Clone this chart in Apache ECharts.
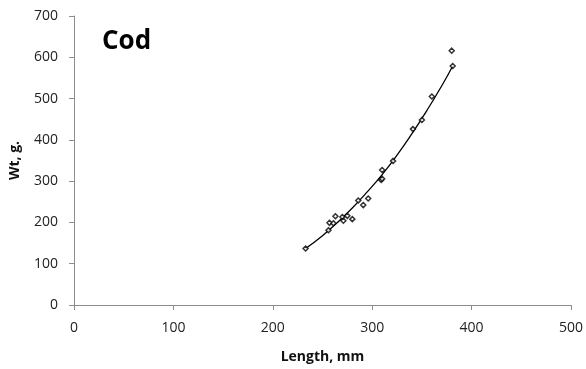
<!DOCTYPE html>
<html>
<head>
<meta charset="utf-8">
<script src="https://cdn.jsdelivr.net/npm/echarts@6/dist/echarts.min.js"></script>
<style>html,body{margin:0;padding:0;background:#fff}#c{width:586px;height:369px}</style>
</head>
<body>
<div id="c"></div>
<script>
// Observed fish: [length mm, weight g]
var codLength = [233, 256, 257, 261, 263, 270, 271, 275, 280, 286, 291, 296, 309, 310, 310, 321, 341, 350, 360, 380, 381];
var codWeight = [137, 181, 199, 198, 215, 213, 204, 216, 208, 253, 242, 258, 303, 306, 327, 349, 426, 448, 505, 616, 579];
// Trendline
var trendLength = [233, 250, 265, 280, 295, 310, 325, 340, 355, 370, 381];
var trendWeight = [137, 168, 200, 235, 274, 316, 363, 415, 471, 531, 579];
var xTicks = [0, 100, 200, 300, 400, 500];
var yTicks = [0, 100, 200, 300, 400, 500, 600, 700];

var FONT = '"Open Sans", sans-serif';
var chart = echarts.init(document.getElementById('c'), null, {renderer: 'canvas'});
var pts = codLength.map(function (x, i) { return [x, codWeight[i]]; });
var trend = trendLength.map(function (x, i) { return [x, trendWeight[i]]; });
var axisCommon = {
  axisLine: {show: true, lineStyle: {color: '#8c8c8c', width: 1}},
  axisTick: {show: true, length: 5, lineStyle: {color: '#8c8c8c'}},
  splitLine: {show: false},
  nameTextStyle: {fontFamily: FONT, fontWeight: 'bold', fontSize: 14, color: '#111'}
};
chart.setOption({
  animation: false,
  backgroundColor: '#fff',
  grid: {left: 73, right: 15, top: 16, bottom: 64, containLabel: false},
  graphic: [{
    type: 'text', left: 102, top: 29,
    style: {text: 'Cod', fontFamily: FONT, fontWeight: 'bold', fontSize: 26, fill: '#000'}
  }],
  xAxis: Object.assign({}, axisCommon, {
    type: 'value', min: xTicks[0], max: xTicks[xTicks.length - 1], interval: 100,
    name: 'Length, mm', nameLocation: 'middle', nameGap: 45,
    axisLabel: {margin: 16, fontFamily: FONT, fontSize: 14, color: '#222',
      formatter: function (v) { return xTicks.indexOf(v) >= 0 ? String(v) : ''; }}
  }),
  yAxis: Object.assign({}, axisCommon, {
    type: 'value', min: yTicks[0], max: yTicks[yTicks.length - 1], interval: 100,
    name: 'Wt, g.', nameLocation: 'middle', nameGap: 52, nameRotate: 90,
    axisLabel: {margin: 16, fontFamily: FONT, fontSize: 14, color: '#222',
      formatter: function (v) { return yTicks.indexOf(v) >= 0 ? String(v) : ''; }}
  }),
  series: [{
    type: 'line', data: trend, smooth: true, showSymbol: false, symbol: 'none',
    lineStyle: {color: '#000', width: 1.3}, z: 2
  }, {
    type: 'scatter', data: pts, symbol: 'diamond', symbolSize: 5,
    itemStyle: {color: '#fff', borderColor: '#000', borderWidth: 1.5}, z: 3
  }]
});
</script>
</body>
</html>
